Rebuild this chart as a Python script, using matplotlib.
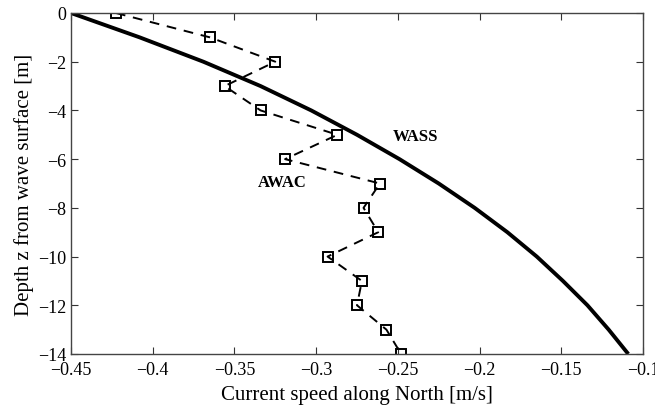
import matplotlib
matplotlib.use('Agg')
import matplotlib.pyplot as plt

plt.rcParams['font.family'] = ['Liberation Serif', 'DejaVu Serif']

# AWAC measurements (depth in m, speed in m/s)
awac_depth = [0, -1, -2, -3, -4, -5, -6, -7, -8, -9, -10, -11, -12, -13, -14]
awac_speed = [-0.4225, -0.365, -0.325, -0.356, -0.334, -0.287, -0.319, -0.261,
              -0.271, -0.262, -0.293, -0.272, -0.275, -0.257, -0.248]

# WASS profile
wass_depth = [0, -1, -2, -3, -4, -5, -6, -7, -8, -9, -10, -11, -12, -13, -14]
wass_speed = [-0.45, -0.408, -0.369, -0.334, -0.303, -0.275, -0.249, -0.225,
              -0.203, -0.183, -0.165, -0.149, -0.134, -0.121, -0.109]

fig = plt.figure(figsize=(6.55, 4.14), dpi=100)
ax = fig.add_axes([71/655, 1-355/414, 572/655, 341/414])

ax.plot(wass_speed, wass_depth, color='k', lw=2.8, solid_capstyle='butt')
ax.plot(awac_speed, awac_depth, color='k', lw=1.4, ls=(0, (5, 4)),
        marker='s', ms=7, mfc='none', mec='k', mew=1.4)

ax.text(-0.239, -5.05, 'WASS', fontsize=12, fontweight='bold', ha='center', va='center')
ax.text(-0.321, -6.94, 'AWAC', fontsize=12, fontweight='bold', ha='center', va='center')

ax.set_xlim(-0.45, -0.1)
ax.set_ylim(-14, 0)
ax.set_xticks([-0.45, -0.4, -0.35, -0.3, -0.25, -0.2, -0.15, -0.1])
ax.set_xticklabels(['\u22120.45', '\u22120.4', '\u22120.35', '\u22120.3', '\u22120.25',
                    '\u22120.2', '\u22120.15', '\u22120.1'])
ax.set_yticks([0, -2, -4, -6, -8, -10, -12, -14])
ax.set_yticklabels(['0', '\u22122', '\u22124', '\u22126', '\u22128', '\u221210', '\u221212', '\u221214'])
ax.tick_params(direction='in', top=True, right=True, labelsize=13, length=5,
               width=0.8, colors='#333333', labelcolor='k')
ax.tick_params(axis='x', pad=5)
for s in ax.spines.values():
    s.set_linewidth(1.0)
    s.set_color('#444444')

ax.set_xlabel('Current speed along North [m/s]', fontsize=15, labelpad=5)
ax.set_ylabel('Depth z from wave surface [m]', fontsize=15, labelpad=3)

fig.savefig('out.png', dpi=100)
